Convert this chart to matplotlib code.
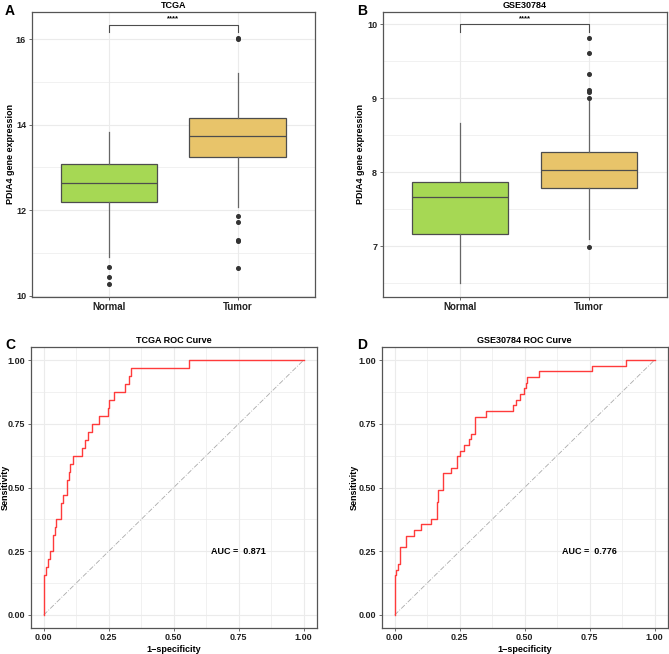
import matplotlib
matplotlib.use("Agg")
import matplotlib.pyplot as plt
from matplotlib.ticker import MultipleLocator

plt.rcParams['font.family'] = ['Liberation Sans', 'DejaVu Sans']
plt.rcParams['font.weight'] = 'bold'

# ---- data ----
groups = ["Normal", "Tumor"]

# TCGA box stats (q1, med, q3, whislo, whishi, outliers)
tcga_normal = dict(q1=12.19, med=12.64, q3=13.09, whislo=10.91, whishi=13.82,
                   fliers=[10.68, 10.44, 10.27])
tcga_tumor = dict(q1=13.25, med=13.73, q3=14.16, whislo=12.07, whishi=15.21,
                  fliers=[16.03, 16.0, 11.87, 11.72, 11.31, 11.29, 10.64])

# GSE30784 box stats
gse_normal = dict(q1=7.17, med=7.67, q3=7.87, whislo=6.50, whishi=8.67, fliers=[])
gse_tumor = dict(q1=7.79, med=8.03, q3=8.27, whislo=7.10, whishi=8.96,
                 fliers=[9.82, 9.61, 9.33, 9.11, 9.09, 9.00, 6.99])

# ROC curves (corner points, step after each rise)
tcga_fpr = [0.0, 0.0, 0.003, 0.009, 0.015, 0.023, 0.034, 0.037, 0.042, 0.048,
            0.066, 0.075, 0.088, 0.099, 0.103, 0.111, 0.149, 0.159, 0.170, 0.186,
            0.214, 0.249, 0.251, 0.272, 0.3125, 0.328, 0.334, 0.559, 1.0]
tcga_tpr = [0.0, 0.0625, 0.156, 0.1875, 0.219, 0.25, 0.281, 0.3125, 0.344, 0.375,
            0.4375, 0.469, 0.531, 0.5625, 0.594, 0.625, 0.656, 0.6875, 0.719, 0.75,
            0.781, 0.8125, 0.844, 0.875, 0.906, 0.9375, 0.969, 1.0, 1.0]
tcga_auc = "0.871"

gse_fpr = [0.0, 0.0, 0.006, 0.011, 0.019, 0.045, 0.074, 0.102, 0.139, 0.162,
           0.168, 0.1875, 0.217, 0.240, 0.251, 0.268, 0.287, 0.295, 0.31, 0.352,
           0.454, 0.466, 0.481, 0.499, 0.506, 0.511, 0.556, 0.760, 0.891, 1.0]
gse_tpr = [0.0, 0.156, 0.178, 0.2, 0.267, 0.311, 0.333, 0.356, 0.378, 0.444,
           0.489, 0.556, 0.578, 0.622, 0.644, 0.667, 0.689, 0.711, 0.778, 0.8,
           0.822, 0.844, 0.867, 0.889, 0.911, 0.933, 0.956, 0.978, 1.0, 1.0]
gse_auc = "0.776"

box_colors = ["#A6D854", "#E8C46A"]
line_gray = "#4D4D4D"
grid_col = "#EBEBEB"

fig = plt.figure(figsize=(6.69, 6.54), dpi=100)
W, H = 669.0, 654.0


def add_ax(left, top, right, bottom):
    return fig.add_axes([left / W, 1 - bottom / H, (right - left) / W, (bottom - top) / H])


def style(ax):
    ax.set_axisbelow(True)
    ax.grid(True, which='major', color=grid_col, lw=0.8)
    ax.grid(True, which='minor', color=grid_col, lw=0.5)
    for s in ax.spines.values():
        s.set_color("#555555")
        s.set_linewidth(0.9)
    ax.tick_params(which='major', length=2.5, width=0.6, color="#555555",
                   labelsize=6.5, pad=1.5, labelcolor="#222222")
    ax.tick_params(which='minor', length=0)


def boxpanel(ax, normal, tumor, title, ylim, major, brk_y, brk_drop, star_y, lab_x):
    stats = []
    for name, s in zip(groups, [normal, tumor]):
        d = dict(s)
        d['label'] = name
        stats.append(d)
    bp = ax.bxp(stats, positions=[1, 2], widths=0.75, patch_artist=True,
                showcaps=False,
                boxprops=dict(edgecolor=line_gray, lw=0.9),
                medianprops=dict(color=line_gray, lw=0.9),
                whiskerprops=dict(color="#666666", lw=0.9),
                flierprops=dict(marker='o', markersize=2.6, markerfacecolor="#333333",
                                markeredgecolor="#333333"))
    for patch, c in zip(bp['boxes'], box_colors):
        patch.set_facecolor(c)
    ax.set_xlim(0.4, 2.6)
    ax.set_ylim(*ylim)
    ax.yaxis.set_major_locator(MultipleLocator(major))
    ax.yaxis.set_minor_locator(MultipleLocator(major / 2))
    ax.set_xticks([1, 2])
    ax.set_xticklabels(groups, fontweight='bold')
    style(ax)
    ax.tick_params(axis='x', labelsize=7)
    ax.set_title(title, fontsize=6.5, fontweight='bold', pad=3)
    ax.set_ylabel("PDIA4 gene expression", fontsize=6.5, fontweight='bold')
    ax.yaxis.set_label_coords(lab_x, 0.5)
    ax.plot([1, 1, 2, 2], [brk_y - brk_drop, brk_y, brk_y, brk_y - brk_drop],
            color=line_gray, lw=0.8)
    ax.text(1.5, star_y, "****", ha='center', va='center', fontsize=5.5, fontweight='bold')


def rocpanel(ax, fpr, tpr, auc, title, lab_x):
    ax.plot([0, 1], [0, 1], color="#AAAAAA", lw=0.6, ls=(0, (6, 2, 1, 2)))
    ax.plot(fpr, tpr, drawstyle='steps-post', color="#FF3B3B", lw=1.0)
    ax.set_xlim(-0.05, 1.05)
    ax.set_ylim(-0.05, 1.05)
    ticks = [0, 0.25, 0.5, 0.75, 1.0]
    ax.set_xticks(ticks)
    ax.set_yticks(ticks)
    ax.set_xticklabels(["%.2f" % t for t in ticks])
    ax.set_yticklabels(["%.2f" % t for t in ticks])
    ax.xaxis.set_minor_locator(MultipleLocator(0.125))
    ax.yaxis.set_minor_locator(MultipleLocator(0.125))
    style(ax)
    ax.set_title(title, fontsize=6.5, fontweight='bold', pad=3)
    ax.set_xlabel("1\u2212specificity", fontsize=6.5, fontweight='bold', labelpad=2)
    ax.set_ylabel("Sensitivity", fontsize=6.5, fontweight='bold')
    ax.yaxis.set_label_coords(lab_x, 0.5)
    ax.text(0.75, 0.25, "AUC =  " + auc, ha='center', va='center',
            fontsize=6.5, fontweight='bold')


axA = add_ax(31.7, 11.7, 315.0, 296.7)
boxpanel(axA, tcga_normal, tcga_tumor, "TCGA", (9.98, 16.64), 2.0, 16.34, 0.18, 16.48, -0.058)

axB = add_ax(382.7, 11.7, 666.5, 296.7)
boxpanel(axB, gse_normal, gse_tumor, "GSE30784", (6.32, 10.17), 1.0, 10.0, 0.11, 10.08, -0.062)

axC = add_ax(30.7, 347.3, 316.7, 627.7)
rocpanel(axC, tcga_fpr, tcga_tpr, tcga_auc, "TCGA ROC Curve", -0.074)

axD = add_ax(381.7, 347.3, 667.5, 627.7)
rocpanel(axD, gse_fpr, gse_tpr, gse_auc, "GSE30784 ROC Curve", -0.079)

for lbl, x, y in [("A", 5, 4), ("B", 357, 4), ("C", 5, 338), ("D", 357, 338)]:
    fig.text(x / W, 1 - y / H, lbl, fontsize=10, fontweight='bold', ha='left', va='top')

fig.savefig("out.png", dpi=100)
